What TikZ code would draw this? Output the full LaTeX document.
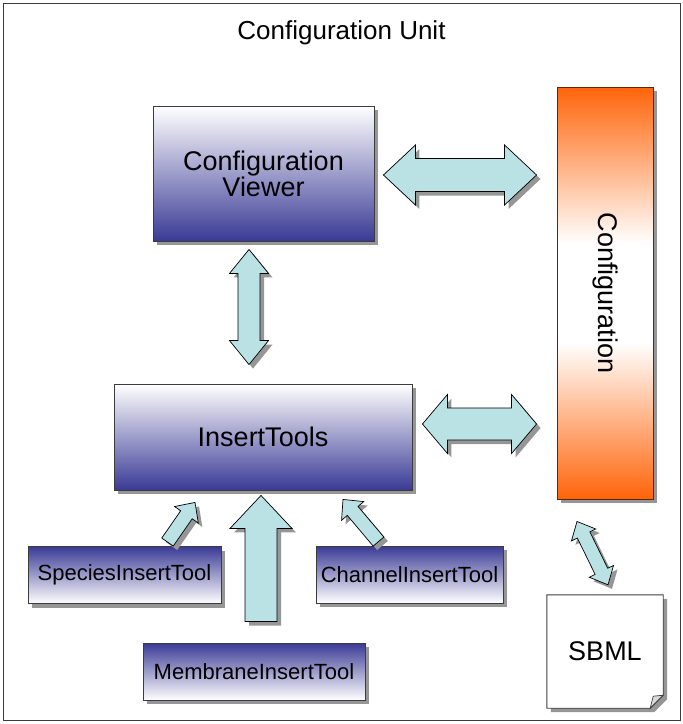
\documentclass[tikz,border=0pt]{standalone}
\usepackage{fontspec}
\setmainfont{Liberation Sans}
\usetikzlibrary{calc,shadows,backgrounds}
\definecolor{dblue}{RGB}{58,58,150}
\definecolor{arrowfill}{RGB}{186,225,227}
\definecolor{orng}{RGB}{255,100,10}
\definecolor{shadowgray}{RGB}{150,150,150}
\definecolor{brownline}{RGB}{90,40,15}
\definecolor{framecol}{RGB}{60,60,60}
\pgfdeclareverticalshading{cfgshade}{100bp}{color(0bp)=(orng); color(25bp)=(orng); color(44bp)=(white); color(56bp)=(white); color(75bp)=(orng); color(100bp)=(orng)}
\tikzset{
  shad/.style={drop shadow={shadow xshift=4pt,shadow yshift=-4pt,fill=shadowgray,opacity=1}},
  bigtext/.style={font=\fontsize{27}{25}\selectfont},
  smalltext/.style={font=\fontsize{22}{24}\selectfont},
  upbox/.style={draw=framecol, line width=0.9pt, top color=white, bottom color=dblue, shad, align=center, inner sep=0pt},
  downbox/.style={draw=framecol, line width=0.9pt, top color=dblue, bottom color=white, shad, align=center, inner sep=0pt, smalltext},
  blk/.style={draw=black, line width=0.7pt, fill=arrowfill, line join=miter, shad},
  dbl/.style n args={3}{to path={
    let \p1=(\tikztostart), \p2=(\tikztotarget),
        \n1={atan2(\y2-\y1,\x2-\x1)} in
    -- ($(\p1)+(\n1:#3)+(\n1+90:#2)$)
    -- ($(\p1)+(\n1:#3)+(\n1+90:#1)$)
    -- ($(\p2)+(\n1:-#3)+(\n1+90:#1)$)
    -- ($(\p2)+(\n1:-#3)+(\n1+90:#2)$)
    -- (\p2)
    -- ($(\p2)+(\n1:-#3)+(\n1-90:#2)$)
    -- ($(\p2)+(\n1:-#3)+(\n1-90:#1)$)
    -- ($(\p1)+(\n1:#3)+(\n1-90:#1)$)
    -- ($(\p1)+(\n1:#3)+(\n1-90:#2)$)
    -- cycle}},
  sgl/.style n args={3}{to path={
    let \p1=(\tikztostart), \p2=(\tikztotarget),
        \n1={atan2(\y2-\y1,\x2-\x1)} in
    -- ($(\p1)+(\n1+90:#1)$)
    -- ($(\p2)+(\n1:-#3)+(\n1+90:#1)$)
    -- ($(\p2)+(\n1:-#3)+(\n1+90:#2)$)
    -- (\p2)
    -- ($(\p2)+(\n1:-#3)+(\n1-90:#2)$)
    -- ($(\p2)+(\n1:-#3)+(\n1-90:#1)$)
    -- ($(\p1)+(\n1-90:#1)$)
    -- cycle}},
}
\begin{document}
\begin{tikzpicture}[x=1pt,y=-1pt]
\useasboundingbox (0,0) rectangle (683,724);
\draw[framecol, line width=1pt] (3,3) rectangle (680,720);
\node[font=\fontsize{26}{28}\selectfont] (title) at (341.5,33) {Configuration Unit};

\node[upbox, bigtext, minimum width=221pt, minimum height=135pt] (vw) at (263.5,173.5) {Configuration\\Viewer};
\node[upbox, bigtext, minimum width=298pt, minimum height=106pt] (it) at (263,437) {InsertTools};
\node[draw=brownline, line width=0.9pt, shading=cfgshade, shad,
      minimum width=96pt, minimum height=412pt, inner sep=0pt] (cfg) at (605,293) {};
\node[bigtext, rotate=-90] (cfgtext) at (cfg.center) {Configuration};
\node[downbox, minimum width=193pt, minimum height=57pt] (sp) at (124.5,575) {SpeciesInsertTool};
\node[downbox, minimum width=187pt, minimum height=57pt] (ch) at (409.5,574.5) {ChannelInsertTool};
\node[downbox, minimum width=222pt, minimum height=57pt] (mb) at (254,671.5) {MembraneInsertTool};
\node[bigtext, minimum width=116pt, minimum height=113pt, inner sep=0pt] (sb) at (605,651.5) {SBML};
\begin{scope}[on background layer]
  \draw[draw=framecol, line width=0.9pt, fill=white, shad]
    (sb.north west) -- (sb.north east) -- ($(sb.south east)+(0,-13)$)
    -- ($(sb.south east)+(-13,0)$) -- (sb.south west) -- cycle;
  \draw[draw=framecol, line width=0.7pt, fill=black!15]
    ($(sb.south east)+(-13,0)$) .. controls ($(sb.south east)+(-11,-6)$) .. ($(sb.south east)+(-10,-12)$)
    -- ($(sb.south east)+(0,-13)$) -- cycle;
\end{scope}

% connectors
\draw[blk, dbl={16.5pt}{30pt}{32pt}] ($(vw.east)+(9,1.5)$) to ($(vw.east -| cfg.west)+(-20,1.5)$);
\draw[blk, dbl={11pt}{19.5pt}{24pt}] ($(vw.south)+(-14.5,8)$) to ($(it.north)+(-14,-19)$);
\draw[blk, dbl={16pt}{29.5pt}{25pt}] ($(it.east)+(10,-13)$) to ($(it.east -| cfg.west)+(-20,-13)$);
\draw[blk, sgl={7pt}{14.5pt}{15pt}] ($(sp.north)+(43,-4)$) to ($(it.south)+(-68,12)$);
\draw[blk, sgl={7pt}{14.5pt}{15pt}] ($(ch.north)+(-31,-4)$) to ($(it.south)+(80,9)$);
\draw[blk, sgl={16pt}{31pt}{33pt}] ($(mb.north)+(7,-21)$) to ($(it.south)+(-2,5)$);
\draw[blk, dbl={7pt}{13.5pt}{15pt}] ($(sb.north)+(3,-10)$) to ($(cfg.south)+(-28,22)$);
\end{tikzpicture}
\end{document}
